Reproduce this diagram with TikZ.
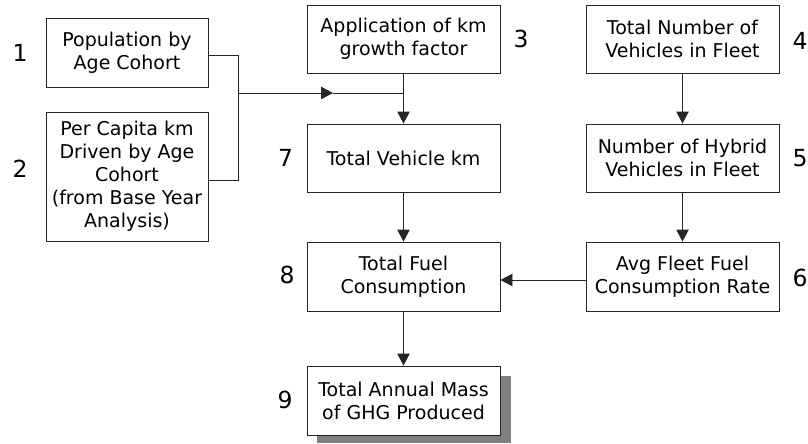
\documentclass[tikz,border=0pt]{standalone}
\usepackage{fontspec}
\setmainfont{DejaVu Sans}
\usetikzlibrary{arrows.meta}
\begin{document}
\begin{tikzpicture}[x=1pt,y=-1pt,
  box/.style={draw=black!85,line width=0.9pt,fill=white,align=center,inner sep=0pt,
    font=\fontsize{19}{23}\selectfont,minimum width=193pt,minimum height=68pt},
  lbox/.style={box,minimum width=162pt},
  num/.style={font=\fontsize{23.5}{24}\selectfont,inner sep=0pt},
  conn/.style={line width=0.9pt,draw=black!85},
  arr/.style={conn,-{Triangle[length=12pt,width=12.5pt]}}]
\useasboundingbox (0,0) rectangle (808,444);
% shadow
\fill[black!50] (317,376) rectangle (511,443);
\node[lbox,minimum height=69pt] (b1) at (127,52.5) {Population by\\Age Cohort};
\node[lbox,minimum height=129pt] (b2) at (127,176.5) {Per Capita km\\Driven by Age\\Cohort\\(from Base Year\\Analysis)};
\node[box] (b3) at (403.5,39) {Application of km\\growth factor};
\node[box] (b4) at (682.5,39) {Total Number of\\Vehicles in Fleet};
\node[box] (b7) at (403.5,158) {Total Vehicle km};
\node[box] (b5) at (682.5,158) {Number of Hybrid\\Vehicles in Fleet};
\node[box,minimum height=69pt] (b8) at (403.5,276.5) {Total Fuel\\Consumption};
\node[box,minimum height=69pt] (b6) at (682.5,276.5) {Avg Fleet Fuel\\Consumption Rate};
\node[box,minimum height=69pt] (b9) at (403.5,400.5) {Total Annual Mass\\of GHG Produced};
% numbers
\node[num] (n1) at (20,52.5) {1};
\node[num] (n2) at (20,169) {2};
\node[num] (n3) at (521,38.5) {3};
\node[num] (n4) at (800,40.5) {4};
\node[num] (n5) at (800,158) {5};
\node[num] (n6) at (800,277.5) {6};
\node[num] (n7) at (285.5,157.5) {7};
\node[num] (n8) at (287,275) {8};
\node[num] (n9) at (285,400) {9};
% connectors
\coordinate (j1) at (238,55);
\coordinate (j2) at (238,180);
\coordinate (jm) at (238,93);
\coordinate (ja) at (333,93);
\coordinate (jv) at (403.5,93);
\draw[conn] (b1.east |- j1) -- (j1) -- (j2) -- (b2.east |- j2);
\draw[arr] (jm) -- (ja);
\draw[conn] (ja) -- (jv);
\draw[arr] (b3) -- (b7);
\draw[arr] (b7) -- (b8);
\draw[arr] (b8) -- (b9);
\draw[arr] (b4) -- (b5);
\draw[arr] (b5) -- (b6);
\draw[arr] (b6.west |- 0,280) -- (b8.east |- 0,280);
\end{tikzpicture}
\end{document}
